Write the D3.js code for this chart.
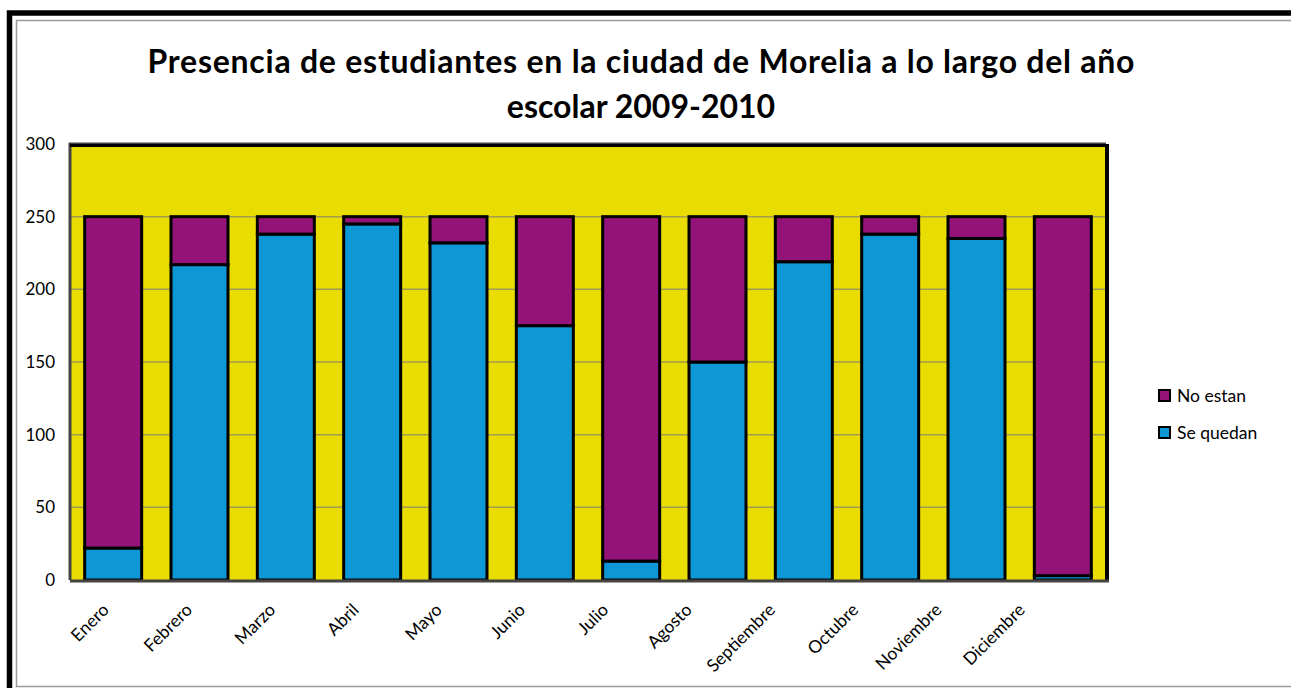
<!DOCTYPE html>
<html>
<head>
<meta charset="utf-8">
<script src="https://cdn.jsdelivr.net/npm/d3@7"></script>
<style>
  body { margin: 0; background: #fff; }
  svg { display: block; font-family: Lato, "Open Sans", sans-serif; }
</style>
</head>
<body>
<div class="canvas"></div>
<script>
// data
const months = ['Enero', 'Febrero', 'Marzo', 'Abril', 'Mayo', 'Junio', 'Julio',
    'Agosto', 'Septiembre', 'Octubre', 'Noviembre', 'Diciembre'];
const seQuedan = [22, 217, 238, 245, 232, 175, 13, 150, 219, 238, 235, 3];
const noEstan = [228, 33, 12, 5, 18, 75, 237, 100, 31, 12, 15, 247];
const seriesNames = ['Se quedan', 'No estan'];
const yTicks = [0, 50, 100, 150, 200, 250, 300];
const titleLines = ['Presencia de estudiantes en la ciudad de Morelia a lo largo del año', 'escolar 2009-2010'];

const dims = { width: 1291, height: 688 };
const plot = { left: 70, right: 1106, top: 144, bottom: 580 };
const colors = { 'Se quedan': '#0e97d5', 'No estan': '#931379' };

const svg = d3.select('.canvas')
    .append('svg')
    .attr('width', dims.width)
    .attr('height', dims.height);

// outer frame
svg.append('path')
    .attr('d', `M9.5,${dims.height} V13 H${dims.width}`)
    .attr('fill', 'none')
    .attr('stroke', '#000')
    .attr('stroke-width', 5.5);
svg.append('rect')
    .attr('x', 16.5).attr('y', 20.5)
    .attr('width', dims.width).attr('height', 666)
    .attr('fill', 'none')
    .attr('stroke', '#999')
    .attr('stroke-width', 1.5);

// title
svg.append('text')
    .attr('text-anchor', 'middle')
    .attr('font-weight', 'bold')
    .attr('font-size', 32)
    .attr('fill', '#000')
    .selectAll('tspan')
    .data(titleLines)
    .enter().append('tspan')
    .attr('x', 641)
    .attr('y', (d, i) => 73 + i * 45)
    .attr('textLength', (d, i) => i === 0 ? 987 : null)
    .attr('lengthAdjust', 'spacing')
    .text(d => d);

// scales
const x = d3.scaleBand()
    .domain(months)
    .range([plot.left, plot.right])
    .paddingInner(0.34)
    .paddingOuter(0.17);

// excel spaces the rotated labels a bit tighter than the bars
const xLabel = d3.scalePoint()
    .domain(months)
    .range([114, 1030]);

const y = d3.scaleLinear()
    .domain([0, 300])
    .range([plot.bottom, plot.top]);

// plot background
svg.append('rect')
    .attr('x', plot.left).attr('y', plot.top)
    .attr('width', plot.right - plot.left)
    .attr('height', plot.bottom - plot.top)
    .attr('fill', '#e8dc00');

// gridlines
svg.append('g')
    .selectAll('line')
    .data(yTicks.filter(d => d > 0 && d < 300))
    .enter().append('line')
    .attr('x1', plot.left).attr('x2', plot.right)
    .attr('y1', d => y(d)).attr('y2', d => y(d))
    .attr('stroke', '#a09c50')
    .attr('stroke-width', 1.5);

// stacked bars
const table = months.map((m, i) => ({ month: m, 'Se quedan': seQuedan[i], 'No estan': noEstan[i] }));
const stack = d3.stack().keys(seriesNames)(table);

svg.append('g')
    .selectAll('g')
    .data(stack)
    .enter().append('g')
    .attr('fill', d => colors[d.key])
    .selectAll('rect')
    .data(d => d.filter(s => s[1] > s[0]))
    .enter().append('rect')
    .attr('x', d => x(d.data.month))
    .attr('width', x.bandwidth())
    .attr('y', d => y(d[1]))
    .attr('height', d => y(d[0]) - y(d[1]))
    .attr('stroke', '#000')
    .attr('stroke-width', 3);

// plot border
svg.append('path')
    .attr('d', `M${plot.left},${plot.bottom} V${plot.top} H${plot.right}`)
    .attr('fill', 'none').attr('stroke', '#444').attr('stroke-width', 3);
svg.append('path')
    .attr('d', `M${plot.left},${plot.top + 1.5} H${plot.right}`)
    .attr('fill', 'none').attr('stroke', '#000').attr('stroke-width', 3);
svg.append('path')
    .attr('d', `M${plot.right + 1},${plot.top} V${plot.bottom + 1}`)
    .attr('fill', 'none').attr('stroke', '#000').attr('stroke-width', 4);
svg.append('path')
    .attr('d', `M${plot.left},${plot.bottom + 1} H${plot.right + 3}`)
    .attr('fill', 'none').attr('stroke', '#444').attr('stroke-width', 3);

// y axis
const yAxis = svg.append('g')
    .attr('transform', `translate(${plot.left - 15},0)`)
    .call(d3.axisLeft(y).tickValues(yTicks).tickSize(0).tickPadding(0));
yAxis.select('.domain').remove();
yAxis.selectAll('text')
    .attr('font-size', 17)
    .attr('font-family', 'Lato, sans-serif')
    .attr('fill', '#000');

// x axis labels, rotated
svg.append('g')
    .selectAll('text')
    .data(months)
    .enter().append('text')
    .attr('font-size', 17.5)
    .attr('fill', '#000')
    .attr('text-anchor', 'end')
    .attr('transform', d => `translate(${xLabel(d) - 4},${plot.bottom + 31}) rotate(-45)`)
    .text(d => d);

// legend
const legend = svg.append('g')
    .selectAll('g')
    .data(['No estan', 'Se quedan'])
    .enter().append('g')
    .attr('transform', (d, i) => `translate(1159,${390 + i * 37})`);

legend.append('rect')
    .attr('width', 11).attr('height', 11)
    .attr('fill', d => colors[d])
    .attr('stroke', '#000')
    .attr('stroke-width', 2);

legend.append('text')
    .attr('x', 18).attr('y', 12)
    .attr('font-size', 17.5)
    .text(d => d);
</script>
</body>
</html>
